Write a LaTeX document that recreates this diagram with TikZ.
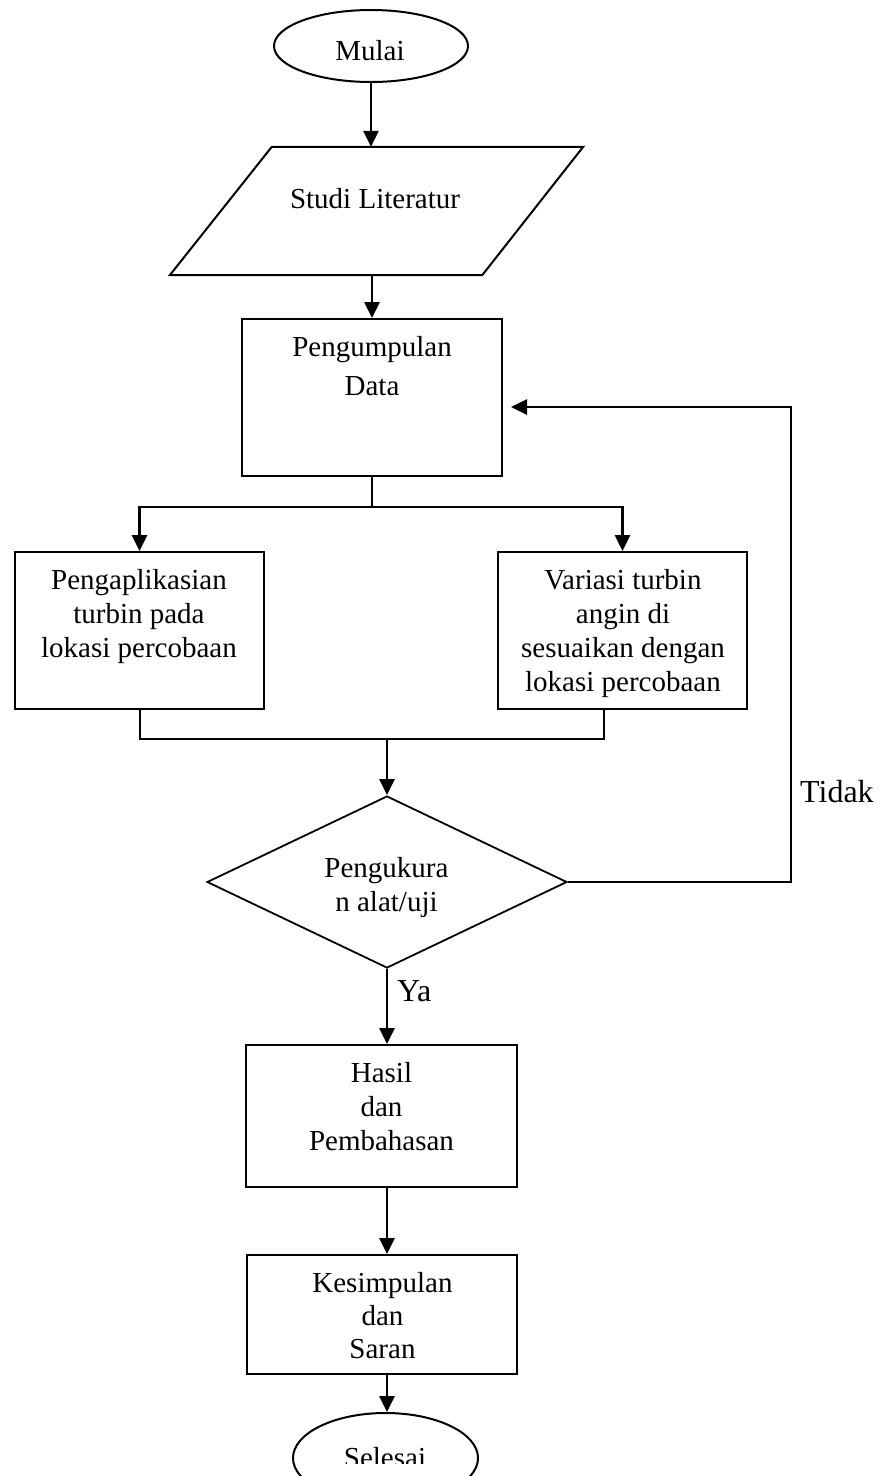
\documentclass[tikz,border=0pt]{standalone}
\usepackage{fontspec}
\setmainfont{Liberation Serif}
\usetikzlibrary{arrows.meta,shapes.geometric}
\begin{document}
\begin{tikzpicture}[x=1pt,y=-1pt,
  box/.style={draw, line width=2pt, rectangle, inner sep=0pt},
  ghost/.style={rectangle, inner sep=0pt},
  arr/.style={line width=2.6pt, -{Triangle[length=16pt,width=15pt]}},
  conn/.style={line width=2pt},
  txt/.style={font=\fontsize{29}{34}\selectfont, align=center, inner sep=0pt},
  lbl/.style={font=\fontsize{32}{38}\selectfont, inner sep=0pt}]
\useasboundingbox (0,0) rectangle (883,1476);
\clip (0,0) rectangle (883,1476);
\fill[white] (0,0) rectangle (883,1476);

% shapes
\node[draw, ellipse, line width=2pt, minimum width=194pt, minimum height=72pt, inner sep=0pt] (mulai) at (371,46) {};
\node[txt, anchor=base] (tmulai) at (370,60) {Mulai};

\node[ghost, minimum width=413pt, minimum height=128pt] (studi) at (376.5,211) {};
\draw[conn] ([xshift=102pt]studi.north west) -- (studi.north east) -- ([xshift=-101pt]studi.south east) -- (studi.south west) -- cycle;
\node[txt, anchor=base] (tstudi) at (375,208) {Studi Literatur};

\node[box, minimum width=260pt, minimum height=157pt] (peng) at (372,397.5) {};
\node[txt, font=\fontsize{29}{39}\selectfont, anchor=north] (tpeng) at (372,328.7) {\strut Pengumpulan\\Data};

\node[box, minimum width=249pt, minimum height=157pt] (apl) at (139.5,630.5) {};
\node[txt, anchor=north] (tapl) at (139,565.2) {\strut Pengaplikasian\\turbin pada\\lokasi percobaan};

\node[box, minimum width=249pt, minimum height=157pt] (var) at (622.5,630.5) {};
\node[txt, anchor=north] (tvar) at (623,565.2) {\strut Variasi turbin\\angin di\\sesuaikan dengan\\lokasi percobaan};

\node[draw, diamond, line width=1.8pt, minimum width=360pt, minimum height=172pt, inner sep=0pt] (dia) at (387,882) {};
\node[txt, anchor=north] (tdia) at (386.5,853.2) {\strut Pengukura\\n alat/uji};

\node[box, minimum width=271pt, minimum height=142pt] (hasil) at (381.4,1116) {};
\node[txt, anchor=north] (thasil) at (381.5,1058.9) {\strut Hasil\\dan\\Pembahasan};

\node[box, minimum width=270pt, minimum height=119pt] (kes) at (382,1314.5) {};
\node[txt, font=\fontsize{29}{33}\selectfont, anchor=north] (tkes) at (382.5,1269.6) {\strut Kesimpulan\\dan\\Saran};

\node[draw, ellipse, line width=2pt, minimum width=185pt, minimum height=90pt, inner sep=0pt] (sel) at (385.5,1458) {};
\begin{scope}
\clip (0,0) rectangle (883,1463);
\node[txt, anchor=base] (tsel) at (385,1467) {Selesai};
\end{scope}

% connectors
\draw[arr] (mulai.south) -- (mulai.south |- studi.north);
\draw[arr] (peng.north |- studi.south) -- (peng.north);
\coordinate (br) at (372,507);
\draw[conn] (peng.south) -- (br);
\draw[arr] (br) -| (apl.north);
\draw[arr] (br) -| (var.north);
\coordinate (mg) at (387,739);
\draw[conn] (apl.south) |- (mg);
\draw[conn] ([xshift=-19pt]var.south) |- (mg);
\draw[arr] (mg) -- (dia.north);
\coordinate (lp) at (791,407);
\coordinate (fb) at (511,407);
\draw[arr] (dia.east) -| (lp) -- (fb);
\draw[arr] (dia.south) -- (dia.south |- hasil.north);
\draw[arr] (dia.south |- hasil.south) -- (dia.south |- kes.north);
\draw[arr] (dia.south |- kes.south) -- (dia.south |- sel.north);

% labels
\node[lbl, anchor=base west] (ya) at (397,1001) {Ya};
\node[lbl, anchor=base west] (tidak) at (800,802) {Tidak};
\end{tikzpicture}
\end{document}
